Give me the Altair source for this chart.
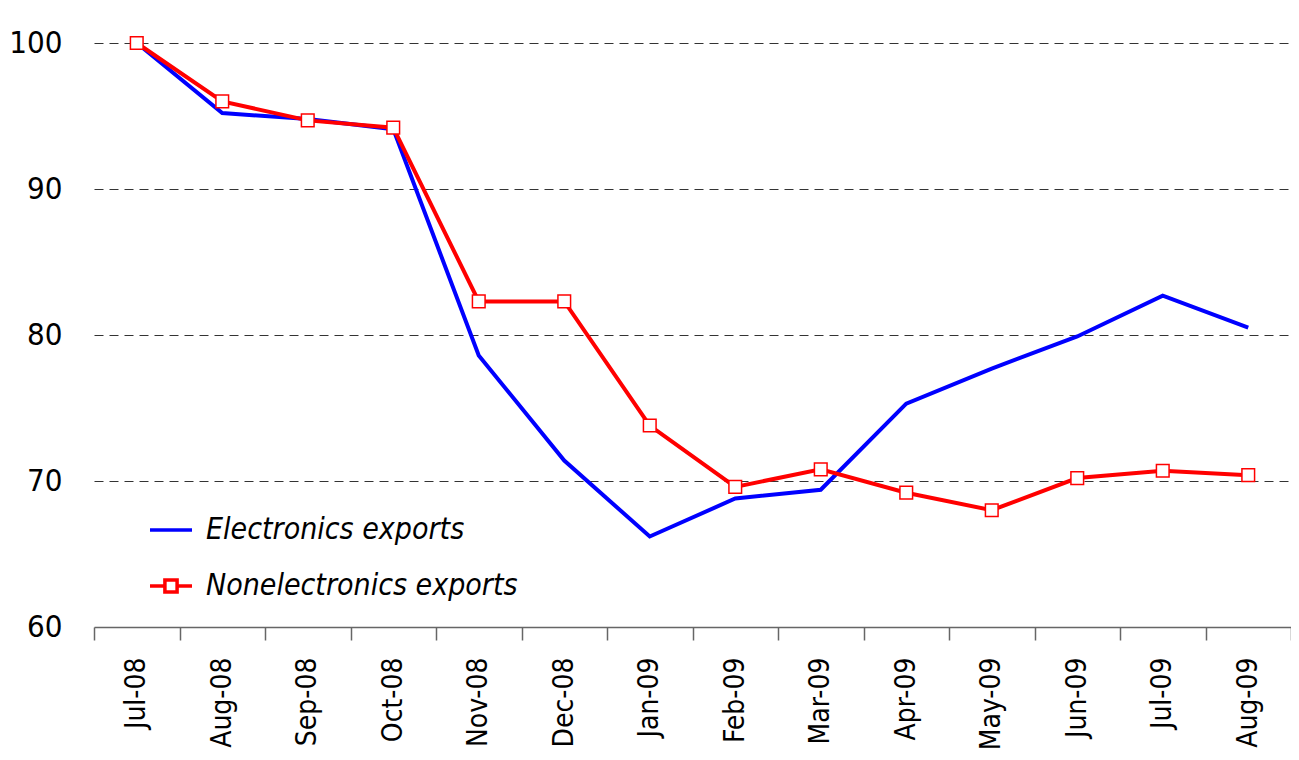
import altair as alt
import pandas as pd

months = ["Jul-08", "Aug-08", "Sep-08", "Oct-08", "Nov-08", "Dec-08", "Jan-09",
          "Feb-09", "Mar-09", "Apr-09", "May-09", "Jun-09", "Jul-09", "Aug-09"]
electronics = [100.0, 95.2, 94.8, 94.1, 78.6, 71.4, 66.2, 68.8, 69.4, 75.3, 77.7, 79.9, 82.7, 80.5]
nonelectronics = [100.0, 96.0, 94.7, 94.2, 82.3, 82.3, 73.8, 69.6, 70.8, 69.2, 68.0, 70.2, 70.7, 70.4]
series_names = ["Electronics exports", "Nonelectronics exports"]
series_colors = ["#0000ff", "#ff0000"]

df = pd.DataFrame({
    "month": months * 2,
    "value": electronics + nonelectronics,
    "series": [series_names[0]] * len(months) + [series_names[1]] * len(months),
})

FONT = "Liberation Sans Narrow, DejaVu Sans Condensed, Roboto, sans-serif"

x_enc = alt.X(
    "month:N", sort=months, bandPosition=0.5, title=None,
    scale=alt.Scale(type="band", paddingInner=0, paddingOuter=0),
    axis=alt.Axis(labelAngle=270, tickBand="extent", tickSize=13, tickColor="#666666",
                  domainColor="#666666", domainWidth=1.5, tickWidth=1.5,
                  labelFont=FONT, labelFontSize=28, labelColor="#000000",
                  labelPadding=17, grid=False),
)
y_enc = alt.Y(
    "value:Q", title=None,
    scale=alt.Scale(domain=[60, 100], nice=False, zero=False),
    axis=alt.Axis(values=[60, 70, 80, 90, 100], ticks=False, domain=False,
                  labelFont=FONT, labelFontSize=31, labelColor="#000000", labelPadding=32,
                  grid=True, gridDash=[9, 6], gridColor="#333333", gridWidth=1,
                  gridOpacity={"condition": {"test": "datum.value === 60", "value": 0}, "value": 1}),
)

red_path = "M-1,0H-0.29M0.29,0H1M-0.29,-0.29H0.29V0.29H-0.29Z"
blue_path = "M-1,0H1"

legend = alt.Legend(
    title=None, orient="none", legendX=54, legendY=464,
    symbolSize=1764, symbolStrokeWidth=3.5, symbolFillColor="white",
    labelFont=FONT, labelFontSize=30,
    labelFontStyle="italic", labelColor="#000000", labelOffset=12, rowPadding=18,
    labelLimit=600,
)

stroke_enc = alt.Stroke(
    "series:N", sort=series_names,
    scale=alt.Scale(domain=series_names, range=series_colors),
    legend=legend,
)
shape_enc = alt.Shape(
    "series:N", sort=series_names,
    scale=alt.Scale(domain=series_names, range=[blue_path, red_path]),
    legend=legend,
)

lines = alt.Chart(df).mark_line(strokeWidth=4).encode(
    x=x_enc, y=y_enc, stroke=stroke_enc,
)

points = alt.Chart(df).transform_filter(
    alt.datum.series == series_names[1]
).mark_point(shape="square", filled=False, fill="white", fillOpacity=1,
             strokeWidth=1.5, size=160, opacity=1).encode(
    x=x_enc, y=y_enc, stroke=stroke_enc,
)

# carries the legend symbols only (draws no marks)
legend_layer = alt.Chart(df).transform_filter("false").mark_point(
    filled=False, fill="white", fillOpacity=1, strokeWidth=3.5, size=1764
).encode(x=x_enc, y=y_enc, stroke=stroke_enc, shape=shape_enc)

chart = alt.layer(lines, points, legend_layer).properties(
    width=1197, height=584,
    padding={"left": 86, "top": 35, "right": 0, "bottom": 125},
    autosize=alt.AutoSizeParams(type="none"),
    background="white",
).configure_view(stroke=None)

chart.save("out.html", embed_options={"renderer": "svg", "actions": False})
